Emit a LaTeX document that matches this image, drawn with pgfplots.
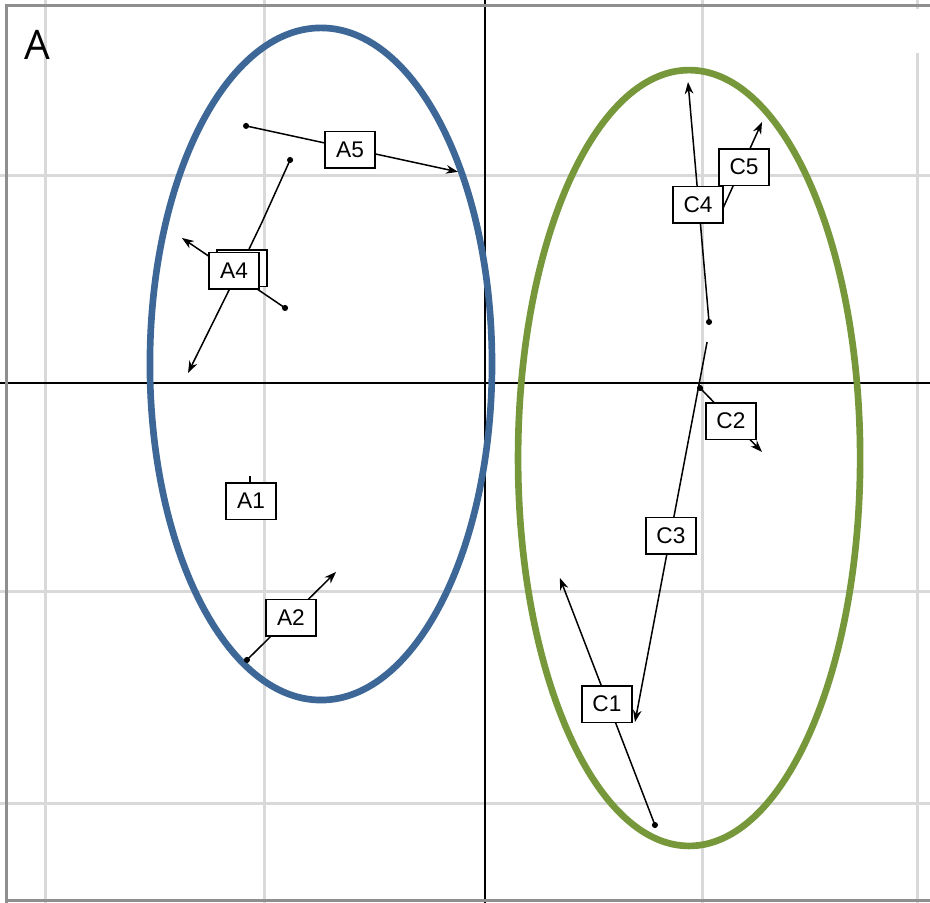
\documentclass[border=0pt]{standalone}
\usepackage{pgfplots}
\pgfplotsset{compat=1.18}
\usepackage{fontspec}
\setmainfont{Liberation Sans}
\newfontfamily\bigfont{Open Sans}
\usetikzlibrary{arrows.meta}
\definecolor{ellblue}{HTML}{3C6797}
\definecolor{ellgreen}{HTML}{76983A}
\definecolor{gridgray}{HTML}{D9D9D9}
\definecolor{framegray}{HTML}{8F8F8F}
\tikzset{traj/.style={black, line width=0.45pt, -{Stealth[length=3.6pt,width=2.6pt]}}}

\begin{document}
\begin{tikzpicture}
\begin{axis}[
  scale only axis, width=279pt, height=270.9pt,
  xmin=-2.2146, xmax=2.0320, ymin=-2.4880, ymax=1.8325,
  axis line style={draw=none},
  xtick={-2.009,-1.005,0.995,1.977}, ytick={-2.010,-1.0,0.995},
  xticklabels={}, yticklabels={}, major tick length=0pt,
  grid=major, grid style={gridgray, line width=0.9pt},
  extra x ticks={0}, extra y ticks={0},
  extra x tick labels={}, extra y tick labels={},
  extra tick style={grid style={black, line width=0.6pt}, major tick length=0pt},
  clip=false,
]
% frame
\fill[white] (axis cs:1.95,1.79) rectangle (axis cs:2.0,1.58);
\draw[framegray, line width=0.9pt] (axis cs:-2.183,-2.488) -- (axis cs:-2.183,1.804) -- (axis cs:2.032,1.804);
\draw[framegray, line width=0.9pt] (axis cs:-2.183,-2.478) -- (axis cs:2.032,-2.478);

% group ellipses
\draw[ellblue, line width=2pt] (axis cs:-0.749,0.091) ellipse [x radius=0.781, y radius=1.608];
\draw[ellgreen, line width=2pt] (axis cs:0.932,-0.359) ellipse [x radius=0.781, y radius=1.856];

% trajectories
\addplot[traj] coordinates {(-1.091,1.230) (-0.123,1.010)};            % A5
\addplot[traj] coordinates {(-0.890,1.067) (-1.018,0.770) (-1.119,0.550) (-1.356,0.048)}; % A4
\addplot[traj] coordinates {(-0.913,0.359) (-1.384,0.694)};            % A3
\addplot[black, line width=0.45pt] coordinates {(-1.073,-0.445) (-1.073,-0.474)}; % A1
\addplot[traj] coordinates {(-1.087,-1.325) (-0.680,-0.904)};          % A2
\addplot[traj] coordinates {(1.023,0.292) (0.927,1.440)};              % C4
\addplot[traj] coordinates {(1.073,0.804) (1.265,1.249)};              % C5
\addplot[traj] coordinates {(0.982,-0.024) (1.265,-0.330)};            % C2
\addplot[traj] coordinates {(1.014,0.196) (0.685,-1.622)};             % C3
\addplot[traj] coordinates {(0.776,-2.115) (0.342,-0.933)};            % C1

% start points
\addplot[only marks, mark=*, mark size=0.7pt, black] coordinates {
  (-1.091,1.230) (-0.890,1.067) (-0.913,0.359) (-1.087,-1.325)
  (1.023,0.292) (0.982,-0.024) (0.776,-2.115)};

% labels (the box behind A4 is hidden in the original)
\addplot[only marks, mark=none, nodes near coords, point meta=explicit symbolic,
  every node near coord/.append style={draw=black, text=black, fill=white, anchor=center,
    line width=0.5pt, font=\fontsize{6.8}{7}\selectfont,
    minimum width=15pt, minimum height=11pt, inner sep=0pt}]
  table[meta=lab] {
x y lab
-0.616 1.115 A5
-1.110 0.550 \phantom{A3}
-1.146 0.536 A4
-1.068 -0.565 A1
-0.886 -1.124 A2
0.973 0.852 C4
1.183 1.033 C5
1.123 -0.182 C2
0.849 -0.732 C3
0.557 -1.536 C1
};

\node[font=\bigfont\fontsize{12.2}{13}\selectfont, anchor=center] at (axis cs:-2.046,1.617) {A};
\end{axis}
\pgfresetboundingbox
\path (current axis.south west) rectangle (current axis.north east);
\end{tikzpicture}
\end{document}
